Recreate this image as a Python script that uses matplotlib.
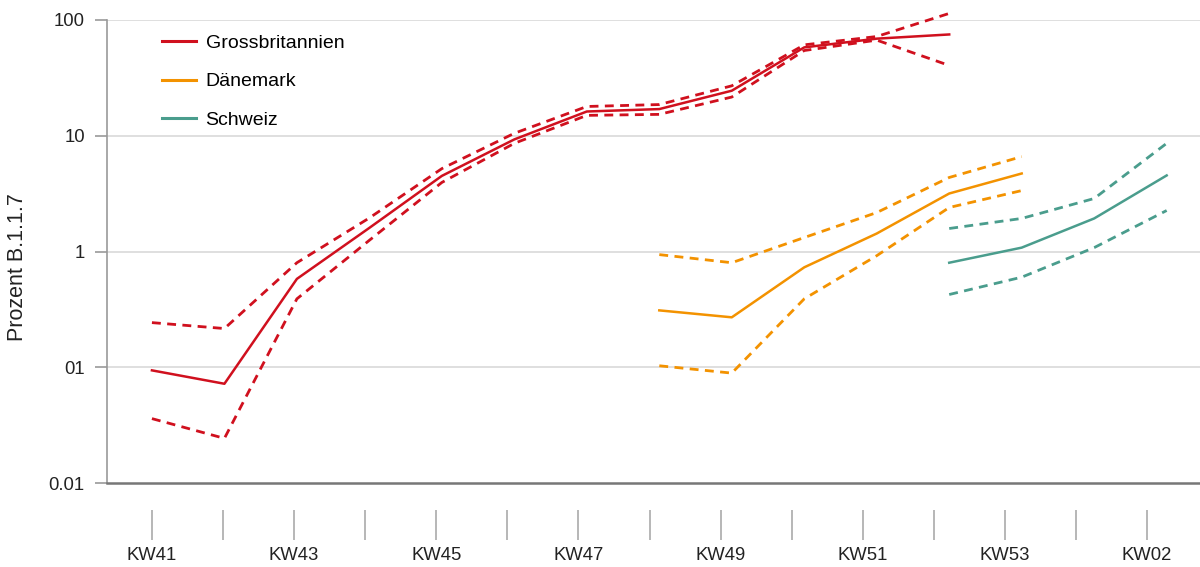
import numpy as np
import matplotlib
matplotlib.use("Agg")
import matplotlib.pyplot as plt

plt.rcParams['font.family'] = ['Liberation Sans', 'DejaVu Sans']

# week labels (calendar weeks 2020/2021)
weeks = ['KW41', 'KW42', 'KW43', 'KW44', 'KW45', 'KW46', 'KW47', 'KW48',
         'KW49', 'KW50', 'KW51', 'KW52', 'KW53', 'KW01', 'KW02']

# Grossbritannien, weeks KW41..KW52
gb_x = list(range(0, 12))
gb_mid = [0.094, 0.072, 0.58, 1.6, 4.5, 9.3, 16.2, 17.0, 24.5, 58, 69, 75]
gb_hi = [0.243, 0.216, 0.80, 1.95, 5.2, 10.5, 17.9, 18.6, 27, 61, 72, 114]
gb_lo = [0.036, 0.0243, 0.39, 1.25, 3.95, 8.6, 15.0, 15.3, 21.6, 54.5, 67, 40.5]

# Dänemark, weeks KW48..KW53
dk_x = list(range(7, 13))
dk_mid = [0.31, 0.27, 0.73, 1.43, 3.17, 4.72]
dk_hi = [0.94, 0.80, 1.32, 2.17, 4.36, 6.6]
dk_lo = [0.103, 0.089, 0.39, 0.92, 2.4, 3.36]

# Schweiz, weeks KW52..KW02
ch_x = list(range(11, 15))
ch_mid = [0.80, 1.08, 1.93, 4.54]
ch_hi = [1.58, 1.93, 2.87, 8.6]
ch_lo = [0.425, 0.60, 1.08, 2.26]

series = [
    ('Grossbritannien', '#d0101e', gb_x, gb_mid, gb_hi, gb_lo),
    ('Dänemark', '#f39200', dk_x, dk_mid, dk_hi, dk_lo),
    ('Schweiz', '#4a9d8d', ch_x, ch_mid, ch_hi, ch_lo),
]

fig = plt.figure(figsize=(12, 5.67), dpi=100)
ax = fig.add_axes([107 / 1200, 1 - 483 / 567, 1 - 107 / 1200, 463 / 567])

for name, color, x, mid, hi, lo in series:
    ax.plot(x, mid, color=color, lw=1.8, label=name, clip_on=False)
    ax.plot(x, hi, color=color, lw=2.0, ls=(0, (3.2, 2.3)), clip_on=False)
    ax.plot(x, lo, color=color, lw=2.0, ls=(0, (3.2, 2.3)), clip_on=False)

ax.set_yscale('log')
ax.set_ylim(0.01, 100)
ax.set_xlim(-0.62, 14.46)

ax.set_yticks([0.01, 0.1, 1, 10, 100])
ax.set_yticklabels(['0.01', '01', '1', '10', '100'])
ax.yaxis.set_minor_locator(matplotlib.ticker.NullLocator())
ax.tick_params(axis='y', length=9, width=1.2, color='#999999', pad=7,
               labelsize=13.3, labelcolor='#222222')
for yv in [0.1, 1, 10, 100]:
    ax.axhline(yv, color='#d9d9d9', lw=1.2, zorder=0)

for s in ['top', 'right']:
    ax.spines[s].set_visible(False)
ax.spines['left'].set_color('#999999')
ax.spines['left'].set_linewidth(1.2)
ax.spines['bottom'].set_color('#777777')
ax.spines['bottom'].set_linewidth(1.8)

# week ticks sit apart from the axis line, as separate strokes
ax.set_xticks([])
sec = ax.secondary_xaxis(-0.058)
sec.spines['bottom'].set_visible(False)
tick_pos = np.arange(len(weeks)) * 71.1 / 72.5
sec.set_xticks(tick_pos)
sec.set_xticklabels([w if i % 2 == 0 else '' for i, w in enumerate(weeks)])
sec.tick_params(axis='x', direction='out', length=21.5, width=1.2,
                color='#aaaaaa', pad=5, labelsize=13.3, labelcolor='#222222')

ax.set_ylabel('Prozent B.1.1.7', fontsize=15.5, color='#222222')
ax.yaxis.set_label_coords(-0.0723, 0.4665)

leg = ax.legend(loc='upper left', bbox_to_anchor=(0.05, 0.969), frameon=False,
                fontsize=14, handlelength=1.75, handletextpad=0.51,
                labelspacing=1.07, borderpad=0, borderaxespad=0)
for line in leg.get_lines():
    line.set_linewidth(2.2)

fig.savefig('out.png', dpi=100)
